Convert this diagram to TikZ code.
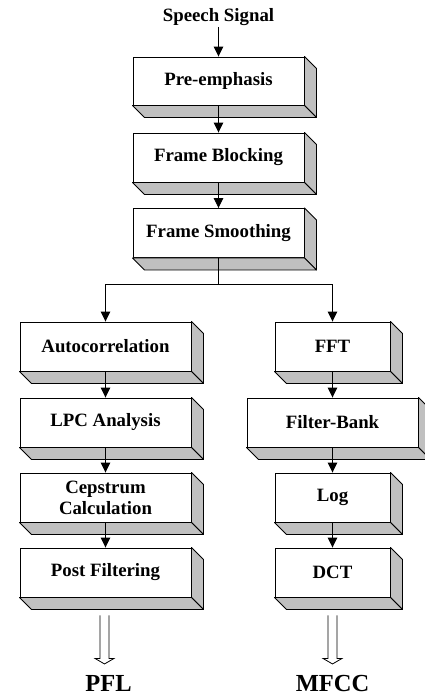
\documentclass[tikz,border=0pt]{standalone}
\usepackage{fontspec}
\setmainfont{Liberation Serif}
\usetikzlibrary{arrows.meta,calc}
\definecolor{sidegray}{RGB}{192,192,192}
\tikzset{
  x=1pt, y=-1pt,
  box/.style={draw, fill=white, line width=0.9pt, inner sep=0pt,
    minimum height=49pt, font=\bfseries\fontsize{18.8}{21}\selectfont, align=center},
  wide/.style={box, minimum width=171pt},
  narrow/.style={box, minimum width=115pt},
  face/.style={fill=sidegray, draw=black, line width=0.9pt, line join=round},
  arr/.style={line width=0.9pt, -{Triangle[length=10pt,width=9.5pt]}},
  hollow/.style={line width=0.8pt, line join=miter},
  lbl/.style={font=\bfseries\fontsize{18.8}{21}\selectfont, inner sep=1pt},
  outlbl/.style={font=\bfseries\fontsize{24.5}{26}\selectfont, inner sep=0pt}
}
\newcommand\sidefaces[1]{%
  \filldraw[face] (#1.north east) -- ++(12,12) -- ($(#1.south east)+(12,12)$) -- (#1.south east) -- cycle;
  \filldraw[face] (#1.south west) -- (#1.south east) -- ++(12,12) -- ($(#1.south west)+(12,12)$) -- cycle;}
\newcommand\hollowarrow[1]{%
  \draw[hollow] ($(#1)+(-4.5,0)$) -- ++(0,43) -- ++(-5,0) -- ++(9.5,5.5) -- ++(9.5,-5.5) -- ++(-5,0) -- ++(0,-43);}
\begin{document}
\begin{tikzpicture}
\useasboundingbox (0,0) rectangle (424,696);
\node[lbl] (speech) at (218.5,17) {Speech Signal};
\node[wide, minimum height=48pt] (pre) at (218.5,81) {Pre-emphasis};
\node[wide] (block) at (218.5,157.5) {Frame Blocking};
\node[wide] (smooth) at (218.5,233) {Frame Smoothing};
\node[wide] (auto) at (105.5,346.5) {Autocorrelation};
\node[wide] (lpc) at (105.5,422.5) {LPC Analysis};
\node[wide] (cep) at (105.5,497.5) {Cepstrum\\Calculation};
\node[wide] (post) at (105.5,572.5) {Post Filtering};
\node[narrow] (fft) at (332.5,346.5) {FFT};
\node[wide] (fb) at (332.5,422.5) {Filter-Bank};
\node[narrow] (log) at (332.5,497.5) {Log};
\node[narrow] (dct) at (332.5,572.5) {DCT};
\foreach \n in {pre,block,smooth,auto,lpc,cep,post,fft,fb,log,dct} {\sidefaces{\n}}
\draw[arr] (speech.south) -- (pre.north);
\draw[arr] (pre.south) -- (block.north);
\draw[arr] (block.south) -- (smooth.north);
\draw[line width=0.6pt] (smooth.south) -- ++(0,26) coordinate (br);
\draw[arr] (br) -| (auto.north);
\draw[arr] (br) -| (fft.north);
\draw[arr] (auto.south) -- (lpc.north);
\draw[arr] (lpc.south) -- (cep.north);
\draw[arr] (cep.south) -- (post.north);
\draw[arr] (fft.south) -- (fb.north);
\draw[arr] (fb.south) -- (log.north);
\draw[arr] (log.south) -- (dct.north);
\coordinate (pa) at ($(post.south)+(-1,18)$);
\coordinate (ma) at ($(dct.south)+(0,18)$);
\hollowarrow{pa}
\hollowarrow{ma}
\node[outlbl] (pfl) at (108.5,683) {PFL};
\node[outlbl] (mfcc) at (332.5,683) {MFCC};
\end{tikzpicture}
\end{document}
